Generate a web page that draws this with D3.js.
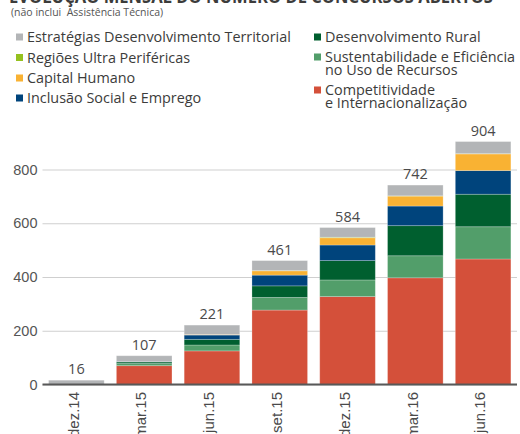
<!DOCTYPE html>
<html>
<head>
<meta charset="utf-8">
<script src="https://cdn.jsdelivr.net/npm/d3@7"></script>
<style>
  body { margin: 0; background: #fff; }
  svg { display: block; font-family: "Open Sans", "Noto Sans", sans-serif; }
  .grid line { stroke: #cfcfcf; stroke-width: 1.2; }
  .grid text { fill: #555; font-size: 14.5px; }
</style>
</head>
<body>
<svg width="520" height="434"></svg>
<script>
// periods on the x axis
var periods = ["dez.14", "mar.15", "jun.15", "set.15", "dez.15", "mar.16", "jun.16"];

// series, bottom of the stack first
var competitividade  = [0,  70, 125, 277, 327, 397, 467];
var sustentabilidade = [0,   8,  22,  47,  62,  82, 120];
var rural            = [0,   6,  21,  43,  72, 112, 121];
var inclusao         = [0,   1,  16,  40,  58,  73,  88];
var capital          = [0,   0,   2,  16,  27,  37,  62];
var regioes          = [0,   0,   0,   1,   2,   1,   1];
var estrategias      = [16, 22,  35,  37,  36,  40,  45];

var yTicks = [0, 200, 400, 600, 800];

var seriesKeys = ["comp", "sust", "rural", "incl", "cap", "reg", "estr"];
var seriesColor = {
    comp: "#d4503a", sust: "#529e6a", rural: "#005f2f", incl: "#00447c",
    cap: "#f9b233", reg: "#95c11f", estr: "#b3b5b7"
};

// table for the stack layout
var rows = periods.map(function(p, i) {
    return {
        period: p,
        comp: competitividade[i], sust: sustentabilidade[i], rural: rural[i],
        incl: inclusao[i], cap: capital[i], reg: regioes[i], estr: estrategias[i]
    };
});
rows.forEach(function(d) {
    d.total = seriesKeys.reduce(function(s, k) { return s + d[k]; }, 0);
});

var svg = d3.select("svg");

var plot = {l: 42.5, r: 517, t: 169.5, b: 384.5};

var x = d3.scaleBand()
    .domain(periods)
    .range([plot.l, plot.r])
    .paddingInner(0.18)
    .paddingOuter(0.09);

var y = d3.scaleLinear()
    .domain([0, 800])
    .range([plot.b, plot.t]);

// title (cut off by the top edge) and note
svg.append("text")
    .attr("x", 9).attr("y", 2.5)
    .attr("textLength", 484).attr("lengthAdjust", "spacingAndGlyphs")
    .style("font-size", "17px").style("font-weight", "bold").style("fill", "#3c3c3b")
    .text("EVOLUÇÃO MENSAL DO NÚMERO DE CONCURSOS ABERTOS");

svg.append("text")
    .attr("x", 11).attr("y", 15.5)
    .style("font-size", "10.5px").style("fill", "#555").style("white-space", "pre")
    .text("(não inclui  Assistência Técnica)");

// legend
var legendItems = [
    {key: "estr",  lines: ["Estratégias Desenvolvimento Territorial"], x: 16,  y: 42},
    {key: "reg",   lines: ["Regiões Ultra Periféricas"],               x: 16,  y: 62.5},
    {key: "cap",   lines: ["Capital Humano"],                          x: 16,  y: 83},
    {key: "incl",  lines: ["Inclusão Social e Emprego"],               x: 16,  y: 103},
    {key: "rural", lines: ["Desenvolvimento Rural"],                   x: 314, y: 42},
    {key: "sust",  lines: ["Sustentabilidade e Eficiência", "no Uso de Recursos"], x: 314, y: 62},
    {key: "comp",  lines: ["Competitividade", "e Internacionalização"],            x: 314, y: 95}
];

var legend = svg.append("g").attr("class", "legend");
var li = legend.selectAll("g")
    .data(legendItems)
    .enter().append("g")
    .attr("transform", function(d) { return "translate(" + [d.x, d.y] + ")"; });

li.append("rect")
    .attr("x", 0).attr("y", -8.5)
    .attr("width", 7).attr("height", 7)
    .attr("fill", function(d) { return seriesColor[d.key]; });

li.append("text")
    .attr("x", 11)
    .style("font-size", "14.4px").style("fill", "#3c3c3b")
    .selectAll("tspan")
    .data(function(d) { return d.lines; })
    .enter().append("tspan")
    .attr("x", 11)
    .attr("y", function(d, i) { return i * 13; })
    .text(function(d) { return d; });

// gridlines + y labels
svg.append("g")
    .attr("class", "grid")
    .attr("transform", "translate(" + plot.l + ",0)")
    .call(d3.axisLeft(y).tickValues(yTicks).tickSize(-(plot.r - plot.l)).tickPadding(5))
    .call(function(g) { g.select(".domain").remove(); })
    .call(function(g) { g.selectAll("text").attr("font-family", null).attr("font-size", null); });

// stacked bars
var stack = d3.stack().keys(seriesKeys);
var layers = stack(rows);

svg.append("g")
    .selectAll("g")
    .data(layers)
    .enter().append("g")
    .attr("fill", function(d) { return seriesColor[d.key]; })
    .selectAll("rect")
    .data(function(d) { return d; })
    .enter().append("rect")
    .filter(function(d) { return d[1] > d[0]; })
    .attr("x", function(d) { return x(d.data.period); })
    .attr("width", x.bandwidth())
    .attr("y", function(d) { return y(d[1]); })
    .attr("height", function(d) { return y(d[0]) - y(d[1]); })
    .attr("stroke", "rgba(255,255,255,0.3)")
    .attr("stroke-width", 0.8);

// totals
svg.append("g")
    .selectAll("text")
    .data(rows)
    .enter().append("text")
    .attr("x", function(d) { return x(d.period) + x.bandwidth() / 2; })
    .attr("y", function(d) { return y(d.total) - 6; })
    .attr("text-anchor", "middle")
    .style("font-size", "14.5px").style("fill", "#4a4a4a")
    .text(function(d) { return d.total; });

// x axis
svg.append("g")
    .attr("transform", "translate(0," + plot.b + ")")
    .call(d3.axisBottom(x).tickSize(0))
    .call(function(g) {
        g.select(".domain").attr("stroke", "#585858").attr("stroke-width", 2)
            .attr("d", "M" + plot.l + ",0H" + plot.r);
        g.selectAll("text")
            .attr("font-family", null)
            .style("font-size", "15px").style("fill", "#4a4a4a")
            .attr("text-anchor", "end")
            .attr("transform", "rotate(-90)")
            .attr("x", -7.5).attr("y", 0).attr("dy", "0.15em");
    });
</script>
</body>
</html>
